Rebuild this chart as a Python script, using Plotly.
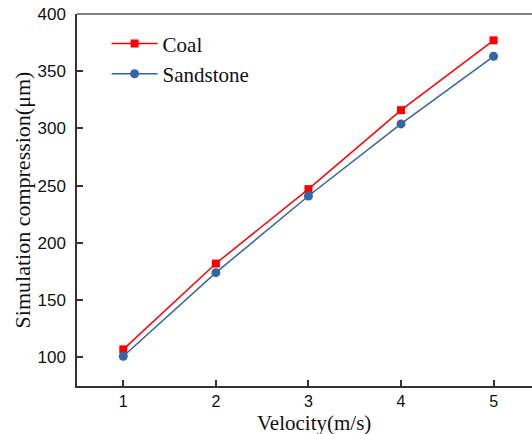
import plotly.graph_objects as go

velocity = [1, 2, 3, 4, 5]
coal = [107, 182, 247, 316, 377]
sandstone = [101, 174, 241, 304, 363]
x_ticks = [1, 2, 3, 4, 5]
y_ticks = [100, 150, 200, 250, 300, 350, 400]

fig = go.Figure()
fig.add_trace(go.Scatter(
    x=velocity, y=coal, name="Coal", mode="lines+markers",
    line=dict(color="#FF0000", width=1.5),
    marker=dict(symbol="square", size=8, color="#FF0000"),
))
fig.add_trace(go.Scatter(
    x=velocity, y=sandstone, name="Sandstone", mode="lines+markers",
    line=dict(color="#3465A4", width=1.5),
    marker=dict(symbol="circle", size=9, color="#3465A4"),
))

axis_common = dict(
    showgrid=False, zeroline=False, showline=True, linecolor="#333333",
    linewidth=1.5, ticks="inside", ticklen=6, tickwidth=1.5, tickcolor="#333333",
)

fig.update_layout(
    width=532, height=434,
    margin=dict(l=77, r=0, t=14, b=48),
    paper_bgcolor="white", plot_bgcolor="white",
    xaxis=dict(range=[0.5, 5.415], tickvals=x_ticks, ticklabelstandoff=0,
               tickfont=dict(family="Liberation Sans, Arial", size=16, color="#111111"),
               **axis_common),
    yaxis=dict(range=[75, 400], tickvals=y_ticks, ticklabelstandoff=6,
               tickfont=dict(family="Liberation Sans, Arial", size=17, color="#111111"),
               title=dict(text="Simulation compression(μm)",
                          font=dict(family="Liberation Serif, Times New Roman", size=22, color="#111111"),
                          standoff=1),
               **axis_common),
    legend=dict(x=0.065, y=0.975, xanchor="left", yanchor="top",
                bgcolor="rgba(0,0,0,0)",
                font=dict(family="Liberation Serif, Times New Roman", size=21, color="#111111"),
                tracegroupgap=0, itemwidth=46),
    showlegend=True,
    shapes=[dict(type="line", xref="paper", yref="paper", x0=0, x1=1, y0=1, y1=1,
                 line=dict(color="#555555", width=1.5))],
    annotations=[dict(text="Velocity(m/s)", xref="paper", yref="paper",
                      x=0.521, y=0, yshift=-37, xanchor="center", yanchor="middle",
                      showarrow=False,
                      font=dict(family="Liberation Serif, Times New Roman", size=21, color="#111111"))],
)

fig.write_html("out.html")
